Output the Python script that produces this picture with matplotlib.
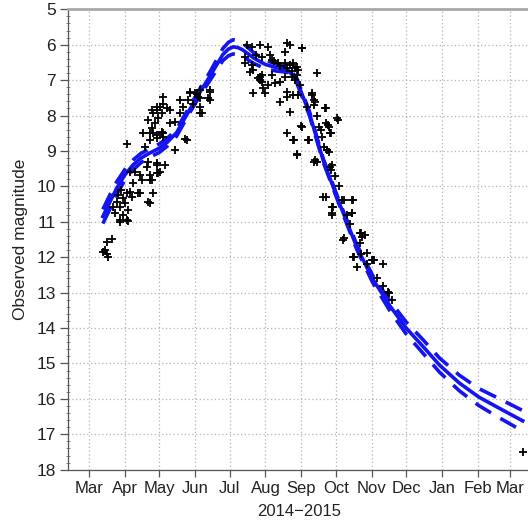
import matplotlib
matplotlib.use('Agg')
import matplotlib.pyplot as plt
import matplotlib.dates as mdates
import matplotlib.ticker as mticker
import pandas as pd

plt.rcParams['font.family'] = ['Liberation Sans', 'DejaVu Sans']

# fitted light curve (middle) and its upper / lower envelope
fit_dates = ['2014-03-13', '2014-03-19', '2014-03-25', '2014-04-01', '2014-04-08',
             '2014-04-15', '2014-04-22', '2014-05-01', '2014-05-08', '2014-05-16',
             '2014-05-27', '2014-06-05', '2014-06-14', '2014-06-25', '2014-06-30',
             '2014-07-04', '2014-07-08', '2014-07-12', '2014-07-22', '2014-08-01',
             '2014-08-10', '2014-08-20', '2014-08-28', '2014-09-08', '2014-09-20',
             '2014-10-04', '2014-10-19', '2014-11-02', '2014-11-17', '2014-12-01',
             '2014-12-15', '2014-12-30', '2015-01-16', '2015-02-02', '2015-02-20',
             '2015-03-12']
fit_mid = [10.85, 10.45, 10.05, 9.68, 9.40, 9.20, 9.07, 8.92, 8.75, 8.48,
           7.85, 7.35, 6.88, 6.28, 6.12, 6.06, 6.08, 6.14, 6.38, 6.56,
           6.64, 6.70, 7.00, 7.93, 9.26, 10.47, 11.70, 12.62, 13.38, 14.00,
           14.50, 15.05, 15.55, 15.95, 16.27, 16.62]
fit_upper = [10.65, 10.25, 9.87, 9.53, 9.26, 9.07, 8.95, 8.80, 8.64, 8.38,
             7.76, 7.25, 6.76, 6.11, 5.93, 5.86, 5.88, 5.95, 6.23, 6.44,
             6.54, 6.62, 6.93, 7.87, 9.21, 10.42, 11.63, 12.52, 13.24, 13.83,
             14.31, 14.85, 15.33, 15.71, 16.00, 16.33]
fit_lower = [11.05, 10.65, 10.23, 9.83, 9.54, 9.33, 9.19, 9.04, 8.86, 8.58,
             7.94, 7.45, 7.00, 6.45, 6.31, 6.26, 6.28, 6.33, 6.53, 6.68,
             6.74, 6.78, 7.07, 7.99, 9.31, 10.52, 11.77, 12.72, 13.52, 14.17,
             14.69, 15.25, 15.77, 16.19, 16.54, 16.91]

# observations: days after 2014-03-01 and magnitude
obs_day = [15.3, 19.7, 13.9, 15.3, 16.7, 12.1,
           24.0, 26.9, 29.7, 32.7, 34.1, 35.5, 26.9, 32.7, 29.7, 22.5, 21.1, 42.7,
           51.4, 55.7, 45.7, 52.9, 52.9, 44.2, 35.5, 58.7, 60.1, 50.0, 51.4, 58.7,
           32.7, 48.6, 52.9, 58.7, 63.0, 31.2, 25.4, 37.0, 34.1, 26.9, 52.9, 44.2,
           54.4, 61.6, 65.9, 58.7, 74.6, 83.2, 28.0, 38.0, 40.0,
           55.7, 58.7, 61.6, 64.4, 67.4, 70.2, 63.0, 60.1, 57.2, 54.4, 63.0, 64.4,
           70.2, 74.6, 78.9, 81.8, 86.1, 87.6, 91.9, 94.8, 96.2, 97.7, 90.4, 84.7,
           104.9, 104.9, 52.9, 58.7, 64.4, 64.4, 58.7, 54.4, 51.4, 47.1, 55.7,
           78.9, 87.6, 96.2, 104.9, 103.4, 96.2, 93.4, 96.2,
           136.7, 141.1, 148.3, 155.5, 174.3, 184.4, 169.9, 156.9, 158.4, 164.1,
           169.9, 174.3, 177.1, 178.6, 181.5, 180.1, 175.7, 169.9, 165.6, 161.3,
           155.5, 149.7, 146.8, 149.7, 142.5, 139.6, 141.1, 148.3, 151.1, 152.6,
           171.4, 177.1, 181.5, 165.6, 178.6, 182.9, 158.4, 135.3, 135.3, 197.4,
           171.9, 184.9, 148.3, 142.5, 145.0, 150.0, 160.0, 166.0, 172.0, 176.0,
           180.0,
           171.9, 171.9, 177.7, 180.6, 174.3, 193.6, 195.1, 195.1, 189.3, 205.2,
           215.3, 205.2, 208.1, 209.6, 199.4, 202.3, 190.7, 183.5, 195.1, 197.9,
           206.6, 208.1, 210.9, 209.6, 205.2, 221.1, 228.3, 210.9, 210.9, 228.3,
           221.1, 235.6, 237.0, 229.8, 247.1,
           193.1, 195.9, 204.6, 216.1, 207.5, 208.9, 184.4, 177.1, 180.1, 190.1,
           195.9, 206.1, 208.9, 203.1, 219.1, 229.1, 211.8, 210.4, 226.3, 227.8,
           220.5, 235.0, 239.3, 235.0, 240.8, 229.1, 245.1, 255.2, 232.1, 240.8,
           259.5, 262.4, 246.5, 260.4,
           198.0, 201.0, 204.0, 213.0, 217.0, 224.0, 236.0, 250.0, 255.0,
           376.0]
obs_mag = [11.56, 11.50, 11.80, 11.90, 12.00, 11.85,
           10.43, 10.58, 10.34, 10.20, 10.67, 10.15, 10.95, 10.95, 10.81, 10.76, 10.58, 10.20,
           10.43, 10.20, 9.82, 9.82, 9.68, 9.68, 9.59, 9.63, 9.63, 9.45, 9.30, 9.35,
           8.79, 8.88, 8.69, 8.55, 8.50, 10.48, 10.25, 10.30, 10.97, 11.00, 10.48, 10.20,
           9.82, 9.59, 9.40, 9.40, 8.97, 8.67, 10.10, 9.90, 9.60,
           7.94, 7.84, 7.75, 7.66, 7.80, 7.84, 7.94, 8.08, 8.22, 8.36, 8.46, 8.50,
           8.22, 8.17, 7.94, 7.75, 7.56, 7.37, 7.37, 7.47, 7.75, 7.94, 7.66, 8.69,
           7.33, 7.56, 8.50, 8.64, 8.60, 7.47, 7.75, 7.84, 8.13, 8.50, 8.50,
           7.56, 7.33, 7.28, 7.28, 7.51, 7.93, 7.40, 7.50,
           6.01, 6.06, 6.01, 6.06, 6.01, 6.10, 6.20, 6.29, 6.43, 6.53,
           6.53, 6.57, 6.53, 6.67, 6.71, 6.86, 6.90, 6.90, 7.05, 7.09,
           7.14, 7.05, 6.95, 6.86, 6.71, 6.76, 6.57, 6.90, 7.23, 7.37,
           7.33, 7.42, 7.42, 7.61, 7.00, 7.14, 6.86, 6.34, 6.53, 6.80,
           5.96, 6.10, 7.00, 7.37, 6.30, 6.35, 6.45, 6.60, 6.65, 6.75,
           6.62,
           7.47, 8.50, 8.69, 9.09, 7.89, 7.42, 7.56, 7.70, 7.75, 7.80,
           8.08, 8.22, 8.32, 8.50, 8.32, 8.60, 8.69, 8.30, 9.30, 9.30,
           8.97, 9.02, 9.40, 9.54, 10.29, 10.39, 10.39, 10.58, 10.76, 10.76,
           11.47, 11.33, 11.42, 11.99, 12.08,
           7.37, 7.61, 7.80, 8.13, 8.27, 8.50, 8.32, 8.69, 9.12, 8.69,
           9.26, 8.97, 9.45, 10.29, 10.39, 10.39, 10.58, 10.81, 11.05, 10.76,
           11.52, 11.33, 11.38, 11.61, 11.89, 11.99, 12.08, 12.18, 12.27, 12.18,
           12.98, 13.21, 12.08, 13.00,
           8.00, 8.40, 8.90, 9.70, 10.00, 10.80, 11.90, 12.60, 12.80,
           17.50]

month_names = ['Mar', 'Apr', 'May', 'Jun', 'Jul', 'Aug', 'Sep', 'Oct',
               'Nov', 'Dec', 'Jan', 'Feb', 'Mar']

t0 = pd.Timestamp('2014-03-01')
fit_t = pd.to_datetime(fit_dates)
obs_t = t0 + pd.to_timedelta(obs_day, unit='D')

fig = plt.figure(figsize=(5.28, 5.23), dpi=100)
ax = fig.add_axes([68 / 528, 1 - 469.7 / 523, 460 / 528, 460.4 / 523])

blue = '#1414f0'
ax.plot(fit_t, fit_upper, color=blue, lw=2.6, dashes=(5, 3), zorder=3)
ax.plot(fit_t, fit_lower, color=blue, lw=2.6, dashes=(5, 3), zorder=3)
ax.plot(fit_t, fit_mid, color=blue, lw=2.6, zorder=3)
ax.plot(obs_t, obs_mag, '+', color='black', ms=6, mew=1.3, zorder=4)

ax.set_xlim(t0 - pd.Timedelta(days=18.2), t0 + pd.Timedelta(days=380.6))
ax.set_ylim(18, 5)

ticks = pd.date_range('2014-03-01', '2015-03-01', freq='MS')
ax.set_xticks(ticks)
ax.set_xticklabels(month_names)
ax.set_yticks(range(5, 19))
ax.yaxis.set_minor_locator(mticker.MultipleLocator(0.2))

ax.grid(True, which='major', color='#b4b4b4', linestyle=(0, (1, 2)), lw=0.9)

ax.tick_params(axis='x', which='major', direction='out', length=5, width=0.9,
               color='#555555', labelsize=12, pad=3, labelcolor='#222222')
ax.tick_params(axis='y', which='major', direction='out', length=5.5, width=0.9,
               color='#555555', labelsize=12.5, pad=3, labelcolor='#222222')
ax.tick_params(axis='y', which='minor', direction='inout', length=3, width=0.6,
               color='#777777')

ax.spines['right'].set_visible(False)
ax.spines['top'].set_color('#a8a8a8')
ax.spines['top'].set_linewidth(2)
for side in ['left', 'bottom']:
    ax.spines[side].set_color('#555555')
    ax.spines[side].set_linewidth(0.9)

fig.text(21 / 528, 1 - 239.5 / 523, 'Observed magnitude', rotation=90,
         ha='center', va='center', fontsize=12.5, color='#222222')
fig.text(299.5 / 528, 1 - 511 / 523, '2014\u22122015',
         ha='center', va='center', fontsize=12, color='#222222')

plt.savefig('out.png', dpi=100)
